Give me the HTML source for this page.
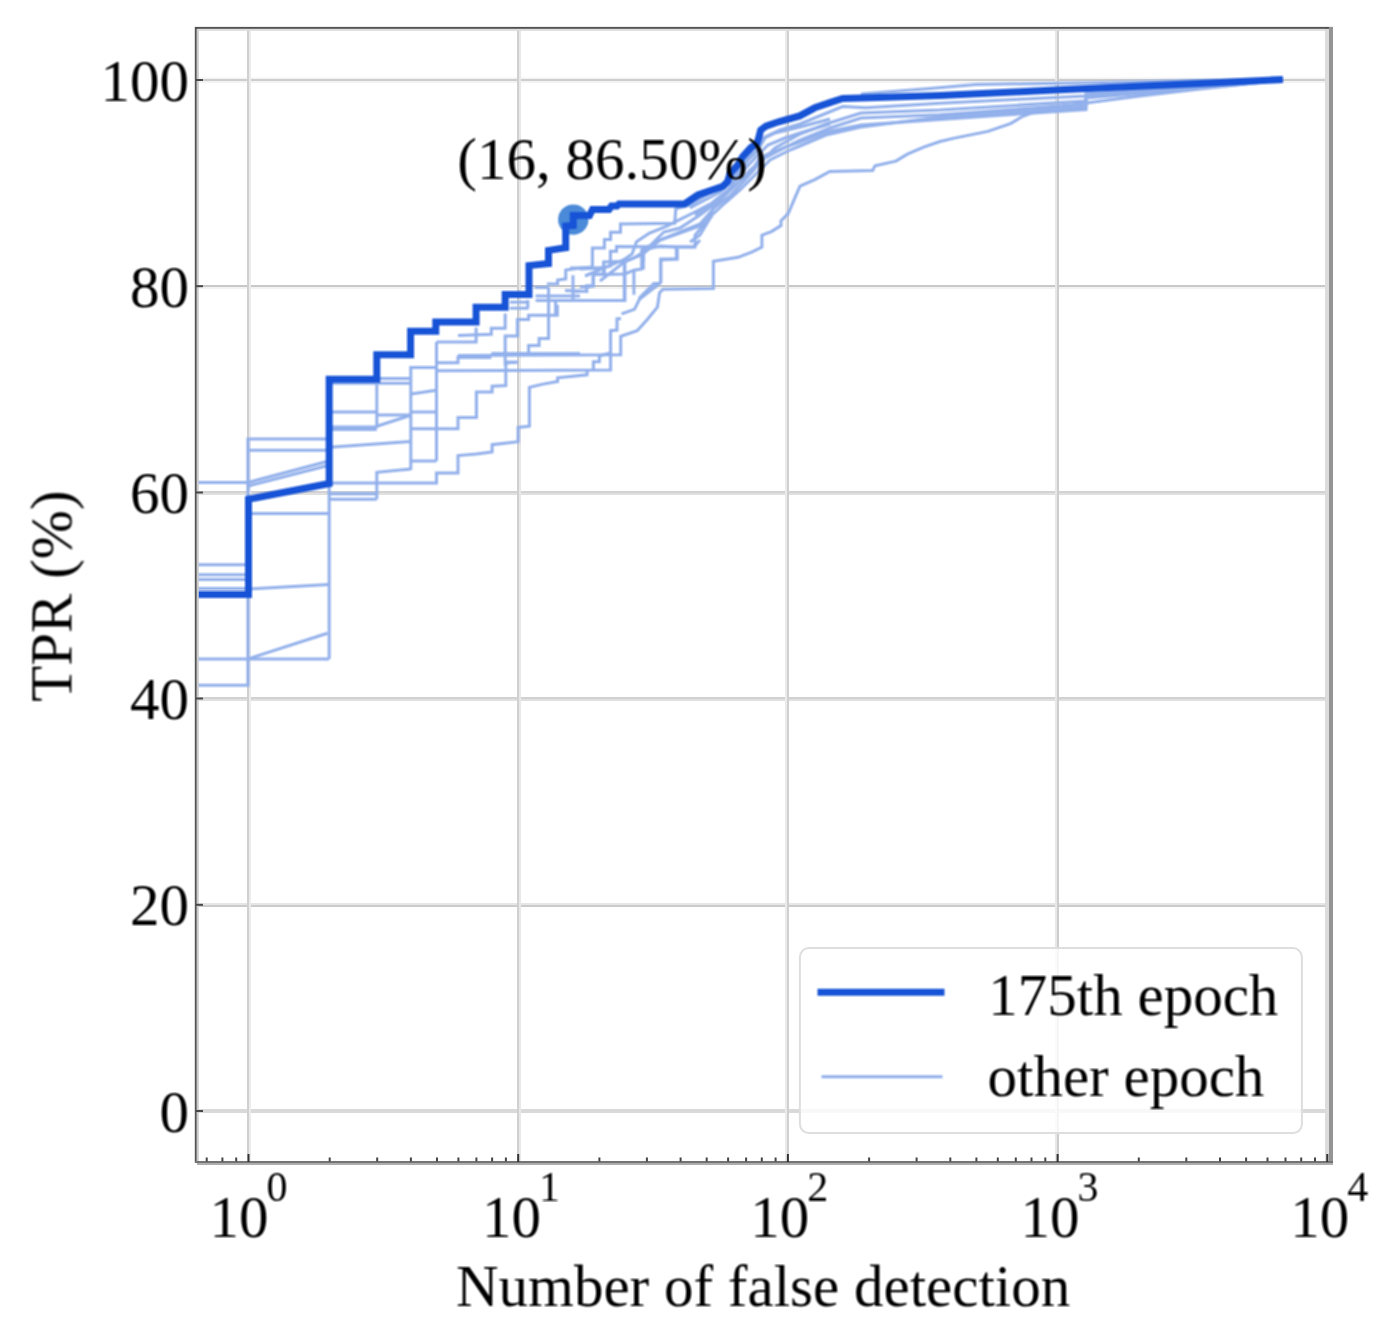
<!DOCTYPE html>
<html><head><meta charset="utf-8"><title>TPR vs number of false detection</title><style>html,body{margin:0;padding:0;background:#fff;overflow:hidden}svg{display:block}</style></head><body>
<svg width="1381" height="1339" viewBox="0 0 1381 1339">
<defs><filter id="soft" filterUnits="userSpaceOnUse" x="0" y="0" width="1381" height="1339" color-interpolation-filters="sRGB"><feConvolveMatrix order="3" kernelMatrix="1 1 1 1 1 1 1 1 1" divisor="9" edgeMode="none"/></filter><clipPath id="ax"><rect x="197" y="29" width="1132" height="1132"/></clipPath></defs>
<rect width="1381" height="1339" fill="#ffffff"/>
<rect x="197" y="77.5" width="1132" height="1.5" fill="#f3f3f3"/>
<rect x="197" y="79.0" width="1132" height="2" fill="#cdcdcd"/>
<rect x="197" y="81.0" width="1132" height="2" fill="#f3f3f3"/>
<rect x="197" y="285" width="1132" height="2" fill="#c8c8c8"/>
<rect x="197" y="287" width="1132" height="2" fill="#f2f2f2"/>
<rect x="197" y="491" width="1132" height="2" fill="#d3d3d3"/>
<rect x="197" y="493" width="1132" height="2" fill="#e0e0e0"/>
<rect x="197" y="697" width="1132" height="2" fill="#d1d1d1"/>
<rect x="197" y="699" width="1132" height="2" fill="#e0e0e0"/>
<rect x="197" y="903" width="1132" height="2" fill="#e6e6e6"/>
<rect x="197" y="905" width="1132" height="2" fill="#cbcbcb"/>
<rect x="197" y="1109" width="1132" height="4" fill="#d9d9d9"/>
<rect x="247" y="29" width="2" height="1132" fill="#d0d0d0"/>
<rect x="249" y="29" width="2" height="1132" fill="#ececec"/>
<rect x="517" y="29" width="2" height="1132" fill="#d0d0d0"/>
<rect x="519" y="29" width="2" height="1132" fill="#e8e8e8"/>
<rect x="785" y="29" width="2" height="1132" fill="#ebebeb"/>
<rect x="787" y="29" width="2" height="1132" fill="#d0d0d0"/>
<rect x="1055" y="29" width="2" height="1132" fill="#e8e8e8"/>
<rect x="1057" y="29" width="2" height="1132" fill="#cdcdcd"/>
<g filter="url(#soft)">
<g clip-path="url(#ax)" fill="none" stroke-linejoin="miter" stroke-linecap="butt">
<polyline points="190.0,564.7 248.0,564.7" stroke="#92b0eb" stroke-width="3"/>
<polyline points="190.0,574.7 248.0,574.7" stroke="#92b0eb" stroke-width="3"/>
<polyline points="190.0,579.4 248.0,579.4" stroke="#92b0eb" stroke-width="3"/>
<polyline points="190.0,588.4 248.0,588.4" stroke="#92b0eb" stroke-width="3"/>
<polyline points="190.0,658.9 329.2,658.9" stroke="#92b0eb" stroke-width="3"/>
<polyline points="190.0,685.2 248.0,685.2 248.0,438.9 329.0,438.9" stroke="#92b0eb" stroke-width="3"/>
<polyline points="248.0,658.9 327.5,633.2" stroke="#92b0eb" stroke-width="3"/>
<polyline points="248.0,589.0 329.0,584.4" stroke="#92b0eb" stroke-width="3"/>
<polyline points="190.0,482.5 248.0,482.5 329.0,461.0" stroke="#92b0eb" stroke-width="3"/>
<polyline points="248.0,486.0 329.0,465.2" stroke="#92b0eb" stroke-width="3"/>
<polyline points="248.0,450.2 329.0,450.2" stroke="#92b0eb" stroke-width="3"/>
<polyline points="248.0,513.6 329.0,513.6" stroke="#92b0eb" stroke-width="3"/>
<polyline points="329.2,658.9 329.2,383.3 410.8,383.3" stroke="#92b0eb" stroke-width="3"/>
<polyline points="376.8,378.5 410.8,378.5" stroke="#92b0eb" stroke-width="3"/>
<polyline points="329.6,412.0 376.8,412.0" stroke="#92b0eb" stroke-width="3"/>
<polyline points="376.8,415.0 410.8,415.0" stroke="#92b0eb" stroke-width="3"/>
<polyline points="410.8,412.0 436.5,412.0" stroke="#92b0eb" stroke-width="3"/>
<polyline points="329.6,427.0 376.8,427.0" stroke="#92b0eb" stroke-width="3"/>
<polyline points="329.6,429.5 376.8,429.5" stroke="#92b0eb" stroke-width="3"/>
<polyline points="376.8,426.3 410.8,415.3" stroke="#92b0eb" stroke-width="3"/>
<polyline points="410.8,428.7 458.0,428.7 458.0,417.5 476.4,417.5 476.4,392.1 492.1,392.1 492.1,386.2 505.8,385.6 505.8,362.9 518.2,362.3" stroke="#92b0eb" stroke-width="3"/>
<polyline points="329.6,447.2 410.8,441.6" stroke="#92b0eb" stroke-width="3"/>
<polyline points="410.8,470.0 410.8,366.0" stroke="#92b0eb" stroke-width="3"/>
<polyline points="436.5,461.0 436.5,342.0" stroke="#92b0eb" stroke-width="3"/>
<polyline points="410.8,394.0 436.5,390.3" stroke="#92b0eb" stroke-width="3"/>
<polyline points="410.8,461.0 436.5,461.0" stroke="#92b0eb" stroke-width="3"/>
<polyline points="410.8,367.5 436.5,367.5" stroke="#92b0eb" stroke-width="3"/>
<polyline points="436.5,362.7 458.0,362.7 458.0,355.5" stroke="#92b0eb" stroke-width="3"/>
<polyline points="376.8,428.0 376.8,383.0" stroke="#92b0eb" stroke-width="3"/>
<polyline points="376.8,499.2 376.8,472.3 410.8,469.0" stroke="#92b0eb" stroke-width="3"/>
<polyline points="329.6,493.8 376.8,493.8" stroke="#92b0eb" stroke-width="3"/>
<polyline points="329.6,499.2 376.8,499.2" stroke="#92b0eb" stroke-width="3"/>
<polyline points="329.6,483.0 436.5,483.0 436.5,472.9 458.0,472.9 458.0,455.6 476.4,454.0 492.1,451.9 492.1,444.7 518.2,441.7 518.2,427.4 529.4,426.2 529.4,387.4 541.7,384.4 557.6,381.4 557.6,377.8 587.1,374.8 587.1,370.6" stroke="#92b0eb" stroke-width="3"/>
<polyline points="436.5,370.8 610.6,370.0 610.6,330.7 617.0,330.1 617.0,318.9 621.0,318.5" stroke="#92b0eb" stroke-width="3"/>
<polyline points="458.0,355.5 620.7,354.8 620.7,336.3 637.2,330.7 647.3,319.5 657.4,307.1 659.6,292.6 663.0,289.2 713.4,288.6 713.4,261.2 738.0,257.3 752.3,251.9 761.9,247.1 761.9,235.2 771.4,231.6 781.0,225.6 781.0,220.8 788.2,213.6 795.3,196.9 800.0,186.2 814.8,179.6 829.8,171.5 872.7,170.4 875.0,165.7 895.9,161.1 907.4,154.2 923.7,147.2 940.0,141.5 953.2,138.4 987.9,131.4 1011.1,123.3 1022.7,116.3 1040.1,110.0 1090.0,102.4 1140.0,96.0 1200.0,89.0 1282.0,80.0" stroke="#92b0eb" stroke-width="3"/>
<polyline points="458.0,357.5 491.3,357.5" stroke="#92b0eb" stroke-width="3"/>
<polyline points="491.3,353.4 580.0,353.4" stroke="#92b0eb" stroke-width="3"/>
<polyline points="460.0,342.1 476.1,342.1 476.1,327.4" stroke="#92b0eb" stroke-width="3"/>
<polyline points="436.5,342.0 460.0,342.0" stroke="#92b0eb" stroke-width="3"/>
<polyline points="458.0,335.5 491.3,334.3 491.3,328.2 505.2,328.2 505.2,313.4" stroke="#92b0eb" stroke-width="3"/>
<polyline points="505.2,365.6 505.2,336.0 517.4,336.0 517.4,319.5 528.6,319.5 528.6,315.2 557.3,315.2 557.3,304.8" stroke="#92b0eb" stroke-width="3"/>
<polyline points="505.2,362.1 517.4,362.1" stroke="#92b0eb" stroke-width="3"/>
<polyline points="509.9,302.2 528.6,302.2" stroke="#92b0eb" stroke-width="3"/>
<polyline points="509.9,308.2 528.6,308.2" stroke="#92b0eb" stroke-width="3"/>
<polyline points="527.8,308.0 527.8,300.0" stroke="#92b0eb" stroke-width="3"/>
<polyline points="528.6,352.6 528.6,345.6 539.1,345.6 539.1,338.6 548.6,338.6 548.6,287.4" stroke="#92b0eb" stroke-width="3"/>
<polyline points="535.6,296.0 580.0,296.0" stroke="#92b0eb" stroke-width="3"/>
<polyline points="535.6,300.4 624.9,300.4 624.9,261.2" stroke="#92b0eb" stroke-width="3"/>
<polyline points="534.7,287.4 548.6,287.4" stroke="#92b0eb" stroke-width="3"/>
<polyline points="546.9,284.0 557.6,284.0 557.6,280.0 565.7,279.0 565.7,270.0 580.0,268.0" stroke="#92b0eb" stroke-width="3"/>
<polyline points="555.6,315.0 555.6,301.3" stroke="#92b0eb" stroke-width="3"/>
<polyline points="573.0,300.0 573.0,275.2" stroke="#92b0eb" stroke-width="3"/>
<polyline points="565.0,290.5 586.8,291.4 586.8,285.8 593.5,285.8 593.5,274.6 603.6,274.6 603.6,265.0" stroke="#92b0eb" stroke-width="3"/>
<polyline points="574.5,291.4 580.0,291.0" stroke="#92b0eb" stroke-width="3"/>
<polyline points="580.0,268.0 592.4,267.0 592.4,248.0 604.4,248.0 604.4,239.4 610.6,239.4 610.6,232.3 620.5,232.3 620.5,224.0 674.7,223.2 675.8,208.9 690.0,205.0 705.0,196.0 725.0,185.0 740.0,170.0 752.0,152.0 763.0,138.0 780.0,130.0 800.0,124.0 842.6,106.6 865.7,107.8 940.0,103.2 1086.0,96.0 1200.0,86.0 1282.0,80.0" stroke="#92b0eb" stroke-width="3"/>
<polyline points="570.0,268.0 603.6,268.0 603.6,262.0 625.0,261.2 641.7,255.0 660.0,240.0 680.0,232.0 700.0,224.0 714.0,208.0 730.0,196.0 745.0,180.0 760.0,163.0 775.0,148.0 800.0,134.0 826.0,124.0 861.0,113.0 940.0,110.0 1086.0,101.0 1086.0,94.0 1200.0,86.5 1282.0,80.0" stroke="#92b0eb" stroke-width="3"/>
<polyline points="603.6,274.6 624.9,274.0 633.9,270.2 641.7,269.0 641.7,250.0 650.8,245.0 663.9,232.0 680.0,228.0 700.0,215.0 720.0,200.0 735.0,186.0 750.0,170.0 765.0,158.0 790.0,145.0 800.0,140.0 830.0,128.0 861.0,118.0 940.0,114.8 1086.0,104.0 1086.0,95.0 1200.0,87.5 1282.0,80.0" stroke="#92b0eb" stroke-width="3"/>
<polyline points="633.9,294.8 633.9,270.2" stroke="#92b0eb" stroke-width="3"/>
<polyline points="643.6,262.0 643.6,250.0 660.0,246.0 676.4,247.0 695.0,247.0 695.0,235.2 706.9,220.8 714.1,206.5 723.6,196.9 730.8,189.7 739.2,181.4 747.5,175.4 754.7,165.8 759.5,158.7 765.5,155.1 783.4,147.9 800.0,142.0 826.3,132.0 861.0,125.0 940.0,119.4 1086.0,109.5 1086.0,98.0 1200.0,88.5 1282.0,80.0" stroke="#92b0eb" stroke-width="3"/>
<polyline points="621.5,313.9 634.4,309.4 637.2,303.8 639.4,299.3 655.1,287.0 659.6,283.6 660.7,281.4 660.7,260.0 676.4,259.0 676.4,247.0" stroke="#92b0eb" stroke-width="3"/>
<polyline points="690.0,242.0 700.0,235.0 712.0,215.0 725.0,203.0 740.0,190.0 752.0,178.0 770.0,160.0 790.0,150.0 800.0,146.0 826.0,135.0 861.0,127.0 940.0,117.0 1086.0,107.0 1086.0,97.0 1200.0,88.0 1282.0,80.0" stroke="#92b0eb" stroke-width="3"/>
<polyline points="593.4,370.0 593.4,361.7 599.4,361.7 599.4,355.7 610.6,353.0" stroke="#92b0eb" stroke-width="3"/>
<polyline points="861.0,94.0 930.0,88.5 976.0,84.5 1090.0,82.7 1200.0,80.6 1282.0,79.8" stroke="#92b0eb" stroke-width="3"/>
<polyline points="580.0,269.0 600.0,268.0 610.4,266.0 610.4,251.3 616.5,251.3 616.5,246.5 693.8,246.9 700.0,240.0" stroke="#92b0eb" stroke-width="3"/>
<polyline points="585.0,276.0 614.8,263.4 623.4,260.0 632.1,253.9 636.5,241.7 649.5,233.0 666.9,226.1 675.6,221.7 693.0,213.0 710.0,204.0" stroke="#92b0eb" stroke-width="3"/>
<polyline points="600.0,281.0 624.3,262.0 633.9,258.0 643.4,252.0 660.0,240.0 680.0,233.0 700.0,226.0 712.0,216.0" stroke="#92b0eb" stroke-width="3"/>
<polyline points="580.0,287.0 587.8,287.0 593.0,286.0 593.0,273.9 604.3,273.9 604.3,267.8" stroke="#92b0eb" stroke-width="3"/>
<polyline points="624.3,300.0 624.3,260.8" stroke="#92b0eb" stroke-width="3"/>
<polyline points="643.4,269.5 643.4,252.1" stroke="#92b0eb" stroke-width="3"/>
<polyline points="660.8,283.4 660.8,259.1 677.3,259.1 677.3,248.7" stroke="#92b0eb" stroke-width="3"/>
<polyline points="639.0,298.2 653.9,283.4 660.8,283.4" stroke="#92b0eb" stroke-width="3"/>
<polyline points="690.0,208.0 705.0,200.0 720.0,192.0 735.0,178.0 748.0,160.0 758.0,150.0 765.0,138.0 775.0,133.0 800.0,127.0 830.0,119.0" stroke="#92b0eb" stroke-width="3"/>
<polyline points="695.0,215.0 712.0,203.0 728.0,190.0 742.0,172.0 755.0,158.0 768.0,145.0 785.0,138.0 800.0,133.0 830.0,124.0" stroke="#92b0eb" stroke-width="3"/>
<circle cx="573.3" cy="219.6" r="15.2" fill="#4a8ad8" stroke="none"/>
<polyline points="190.0,594.5 248.5,594.5 248.5,499.2 329.2,483.5 329.2,379.2 376.8,379.2 376.8,354.8 410.6,354.8 410.6,331.2 435.8,331.2 435.8,322.0 476.1,322.0 476.1,307.2 505.2,307.2 505.2,294.5 529.0,294.5 529.0,265.6 548.5,263.5 548.5,250.4 565.7,247.8 565.7,226.0 573.3,225.5 573.3,215.5 589.5,215.5 592.5,209.5 609.0,209.5 611.5,206.0 617.0,206.0 619.0,204.0 684.5,204.0 697.9,195.0 723.0,186.2 727.5,181.7 730.2,173.0 737.4,165.5 742.7,156.6 750.8,147.6 757.1,143.1 758.9,136.9 760.7,130.0 766.0,126.1 778.6,121.8 799.7,115.9 814.8,107.8 829.8,102.6 842.6,98.5 878.5,97.4 940.0,95.6 1060.0,89.8 1200.0,83.6 1279.5,79.6" stroke="#1753d6" stroke-width="7" stroke-linecap="square"/>
</g>
</g>
<rect x="194.8" y="27" width="2" height="1136" fill="#555555"/>
<rect x="196.8" y="29" width="2" height="1132" fill="#cccccc"/>
<rect x="195" y="26.9" width="1138" height="2" fill="#525252"/>
<rect x="198" y="28.9" width="1127" height="2" fill="#dedede"/>
<rect x="1325" y="29" width="4" height="1132" fill="#dcdcdc"/>
<rect x="1329" y="27" width="4" height="1137" fill="#949494"/>
<rect x="195" y="1161" width="1138" height="2" fill="#747474"/>
<rect x="197" y="1163" width="1136" height="2" fill="#adadad"/>
<rect x="196" y="79.0" width="7" height="2" fill="#484848"/>
<rect x="196" y="285.2" width="7" height="2" fill="#484848"/>
<rect x="196" y="491.5" width="7" height="2" fill="#484848"/>
<rect x="196" y="697.5" width="7" height="2" fill="#484848"/>
<rect x="196" y="903.8" width="7" height="2" fill="#484848"/>
<rect x="196" y="1110.0" width="7" height="2" fill="#484848"/>
<rect x="247.5" y="1154" width="2" height="8" fill="#333333"/>
<rect x="517.2" y="1154" width="2" height="8" fill="#333333"/>
<rect x="786.9" y="1154" width="2" height="8" fill="#333333"/>
<rect x="1056.6" y="1154" width="2" height="8" fill="#333333"/>
<rect x="1326.3" y="1154" width="2" height="8" fill="#333333"/>
<rect x="205.7" y="1157.5" width="2" height="4" fill="#444444"/>
<rect x="221.4" y="1157.5" width="2" height="4" fill="#444444"/>
<rect x="235.2" y="1157.5" width="2" height="4" fill="#444444"/>
<rect x="328.7" y="1157.5" width="2" height="4" fill="#444444"/>
<rect x="376.2" y="1157.5" width="2" height="4" fill="#444444"/>
<rect x="409.9" y="1157.5" width="2" height="4" fill="#444444"/>
<rect x="436.0" y="1157.5" width="2" height="4" fill="#444444"/>
<rect x="457.4" y="1157.5" width="2" height="4" fill="#444444"/>
<rect x="475.4" y="1157.5" width="2" height="4" fill="#444444"/>
<rect x="491.1" y="1157.5" width="2" height="4" fill="#444444"/>
<rect x="504.9" y="1157.5" width="2" height="4" fill="#444444"/>
<rect x="598.4" y="1157.5" width="2" height="4" fill="#444444"/>
<rect x="645.9" y="1157.5" width="2" height="4" fill="#444444"/>
<rect x="679.6" y="1157.5" width="2" height="4" fill="#444444"/>
<rect x="705.7" y="1157.5" width="2" height="4" fill="#444444"/>
<rect x="727.1" y="1157.5" width="2" height="4" fill="#444444"/>
<rect x="745.1" y="1157.5" width="2" height="4" fill="#444444"/>
<rect x="760.8" y="1157.5" width="2" height="4" fill="#444444"/>
<rect x="774.6" y="1157.5" width="2" height="4" fill="#444444"/>
<rect x="868.1" y="1157.5" width="2" height="4" fill="#444444"/>
<rect x="915.6" y="1157.5" width="2" height="4" fill="#444444"/>
<rect x="949.3" y="1157.5" width="2" height="4" fill="#444444"/>
<rect x="975.4" y="1157.5" width="2" height="4" fill="#444444"/>
<rect x="996.8" y="1157.5" width="2" height="4" fill="#444444"/>
<rect x="1014.8" y="1157.5" width="2" height="4" fill="#444444"/>
<rect x="1030.5" y="1157.5" width="2" height="4" fill="#444444"/>
<rect x="1044.3" y="1157.5" width="2" height="4" fill="#444444"/>
<rect x="1137.8" y="1157.5" width="2" height="4" fill="#444444"/>
<rect x="1185.3" y="1157.5" width="2" height="4" fill="#444444"/>
<rect x="1219.0" y="1157.5" width="2" height="4" fill="#444444"/>
<rect x="1245.1" y="1157.5" width="2" height="4" fill="#444444"/>
<rect x="1266.5" y="1157.5" width="2" height="4" fill="#444444"/>
<rect x="1284.5" y="1157.5" width="2" height="4" fill="#444444"/>
<rect x="1300.2" y="1157.5" width="2" height="4" fill="#444444"/>
<rect x="1314.0" y="1157.5" width="2" height="4" fill="#444444"/>
<rect x="799.9" y="948.1" width="502" height="185" rx="9" ry="9" fill="#ffffff" fill-opacity="0.8" stroke="#dedede" stroke-width="2"/>
<g filter="url(#soft)">
<line x1="821" y1="992.2" x2="941" y2="992.2" stroke="#1753d6" stroke-width="7" stroke-linecap="square"/>
<line x1="821.5" y1="1076.8" x2="942.5" y2="1076.8" stroke="#92b0eb" stroke-width="3"/>
<g font-family="Liberation Serif, Times New Roman, serif" fill="#000">
<text x="189.0" y="100.6" font-size="59" text-anchor="end">100</text>
<text x="189.0" y="306.8" font-size="59" text-anchor="end">80</text>
<text x="189.0" y="513.1" font-size="59" text-anchor="end">60</text>
<text x="189.0" y="719.1" font-size="59" text-anchor="end">40</text>
<text x="189.0" y="925.4" font-size="59" text-anchor="end">20</text>
<text x="189.0" y="1131.6" font-size="59" text-anchor="end">0</text>
<text x="209.6" y="1236.5" font-size="59">10</text>
<text x="266.6" y="1201" font-size="42">0</text>
<text x="481.9" y="1236.5" font-size="59">10</text>
<text x="538.9" y="1201" font-size="42">1</text>
<text x="750.2" y="1236.5" font-size="59">10</text>
<text x="807.2" y="1201" font-size="42">2</text>
<text x="1020.6" y="1236.5" font-size="59">10</text>
<text x="1077.6" y="1201" font-size="42">3</text>
<text x="1290.3" y="1236.5" font-size="59">10</text>
<text x="1347.3" y="1201" font-size="42">4</text>
<text x="455.9" y="1306" font-size="59">Number of false detection</text>
<text transform="translate(71.4,701.8) rotate(-90)" x="0" y="0" font-size="59">TPR (%)</text>
<text x="457.3" y="179.1" font-size="59">(16, 86.50%)</text>
<text x="988.3" y="1015.3" font-size="59">175th epoch</text>
<text x="987.5" y="1096.2" font-size="59">other epoch</text>
</g>
</g>
</svg>
</body></html>
